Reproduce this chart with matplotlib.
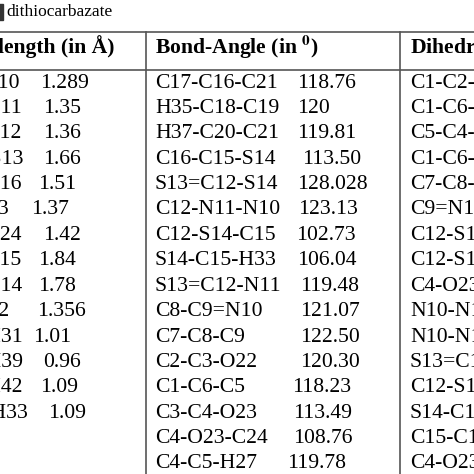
import matplotlib.pyplot as plt

plt.rcParams['font.family'] = ['Liberation Serif', 'DejaVu Serif']
plt.rcParams['mathtext.fontset'] = 'stix'

# --- table content ---
len_labels = ["N9=N10", "N10-N11", "N11-C12", "C12=S13", "C15-C16", "C3-O23",
              "O23-C24", "S14-C15", "C12-S14", "C12", "N11-H31", "O22-H39",
              "C24-H42", "C15-H33"]
len_values = ["1.289", "1.35", "1.36", "1.66", "1.51", "1.37", "1.42", "1.84",
              "1.78", "1.356", "1.01", "0.96", "1.09", "1.09"]
# right end of label / start of value (px)
len_lab_end = [20, 22, 22, 24, 22, 9, 22, 22, 22, 9, 23, 23, 23, 28]
len_val_x = [40, 43, 43, 43, 38, 31, 43, 38, 38, 37, 33, 43, 40, 48]

ang_labels = ["C17-C16-C21", "H35-C18-C19", "H37-C20-C21", "C16-C15-S14",
              "S13=C12-S14", "C12-N11-N10", "C12-S14-C15", "S14-C15-H33",
              "S13=C12-N11", "C8-C9=N10", "C7-C8-C9", "C2-C3-O22", "C1-C6-C5",
              "C3-C4-O23", "C4-O23-C24", "C4-C5-H27"]
ang_values = ["118.76", "120", "119.81", "113.50", "128.028", "123.13", "102.73",
              "106.04", "119.48", "121.07", "122.50", "120.30", "118.23",
              "113.49", "108.76", "119.78"]
ang_val_x = [297, 297, 297, 302, 297, 298, 296, 297, 300, 300, 300, 300, 292,
             293, 293, 287]

dih_labels = ["C1-C2-C3-C4", "C1-C6-C5-C4", "C5-C4-C3-C2", "C1-C6-C5-H27",
              "C7-C8-C9=N10", "C9=N10-N11", "C12-S14-C15", "C12-S14-C15",
              "C4-O23-C24", "N10-N11-C12", "N10-N11-H31", "S13=C12-S14",
              "C12-S14-C15", "S14-C15-C16", "C15-C16-C17", "C4-O23-C24"]

fig = plt.figure(figsize=(4.74, 4.74), dpi=100)
ax = fig.add_axes([0, 0, 1, 1])
ax.set_xlim(0, 474)
ax.set_ylim(474, 0)
ax.axis('off')

fs = 15.6
lc = '#555555'
row0, dy = 83, 25.4

# caption
ax.add_patch(plt.Rectangle((-2, 4), 5, 16, color='#333333', clip_on=False))
ax.text(6, 12, "dithiocarbazate", fontsize=12.5, va='center')

# rules
ax.plot([0, 474], [32, 32], color=lc, lw=1.2)
ax.plot([0, 474], [70, 70], color=lc, lw=1.2)
for x in (146, 400):
    ax.plot([x, x], [32, 474], color=lc, lw=1.2)

# headers
ax.text(-2, 47, "length (in Å)", fontsize=fs, fontweight='bold', va='center')
ax.text(155, 47, r"Bond-Angle (in $^{\mathbf{0}}$)", fontsize=fs,
        fontweight='bold', va='center')
ax.text(410, 47, "Dihedral Angle (in $^{\mathbf{0}}$)", fontsize=fs,
        fontweight='bold', va='center')

for i, (lab, val) in enumerate(zip(len_labels, len_values)):
    y = row0 + i * dy
    ax.text(len_lab_end[i], y, lab, fontsize=fs, ha='right', va='center')
    ax.text(len_val_x[i], y, val, fontsize=fs, va='center')

for i, (lab, val) in enumerate(zip(ang_labels, ang_values)):
    y = row0 + i * dy
    ax.text(155, y, lab, fontsize=fs, va='center')
    ax.text(ang_val_x[i], y, val, fontsize=fs, va='center')

for i, lab in enumerate(dih_labels):
    ax.text(410, row0 + i * dy, lab, fontsize=fs, va='center')

fig.savefig("out.png", dpi=100)
